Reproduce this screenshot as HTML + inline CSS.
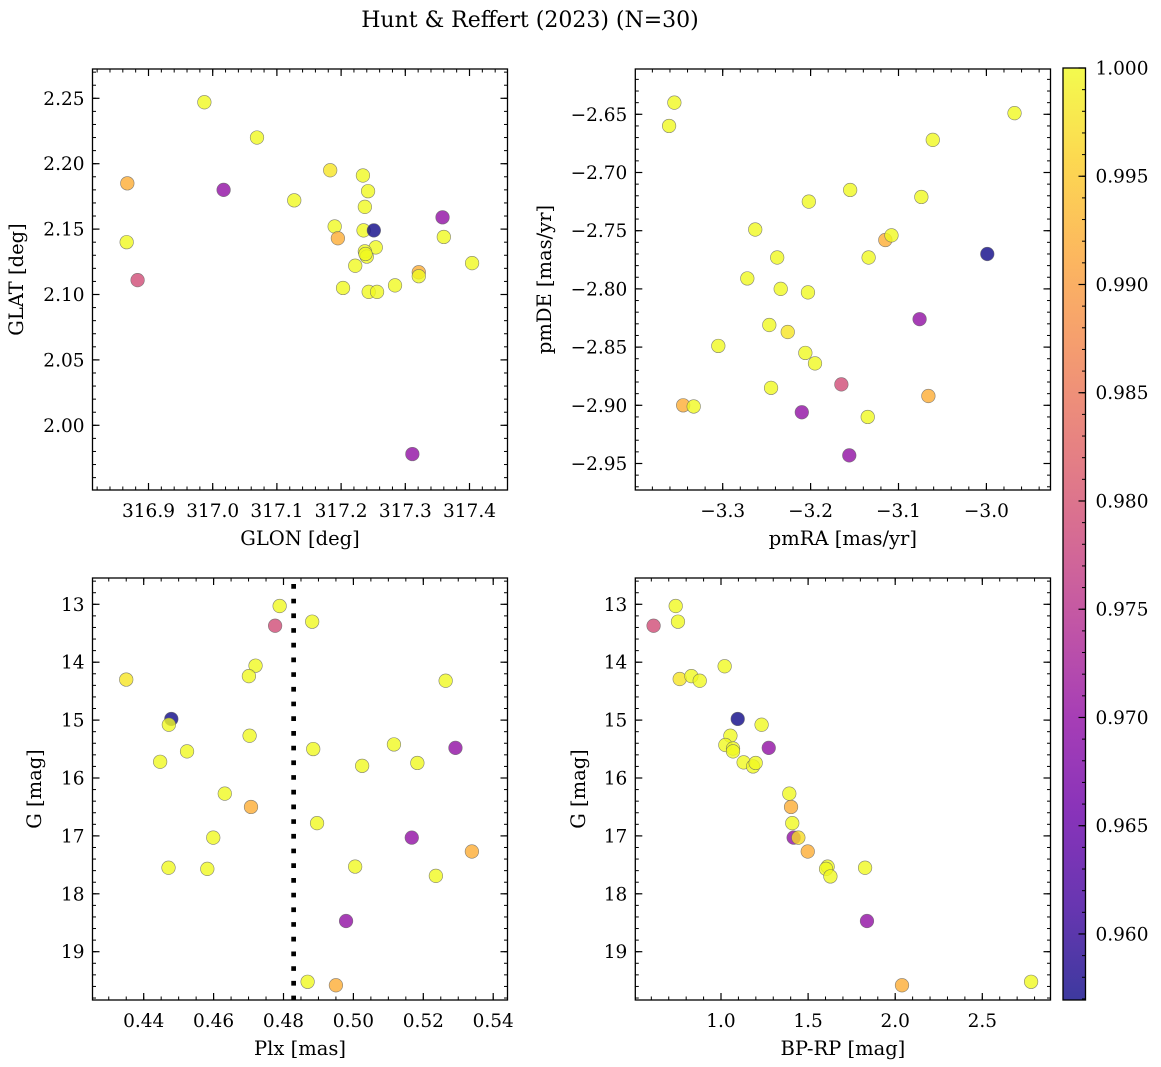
<!DOCTYPE html>
<html><head><meta charset="utf-8">
<style>
html,body{margin:0;padding:0;background:#fff;}
svg{display:block;font-family:"DejaVu Serif","Liberation Serif",serif;}
</style></head>
<body>
<svg id="fig" width="1161" height="1067" viewBox="0 0 1161 1067" xmlns="http://www.w3.org/2000/svg">
<text x="530" y="27" font-size="22" text-anchor="middle">Hunt &amp; Reffert (2023) (N=30)</text>
</svg>
<script>
// ---- data ----
const glon=[316.987,317.069,316.867,317.017,317.127,317.183,317.234,317.242,317.237,317.358,316.866,317.190,317.195,317.235,317.251,317.360,317.254,317.237,317.240,317.222,317.404,316.883,317.321,317.321,317.203,317.243,317.256,317.284,317.311,317.238];
const glat=[2.247,2.220,2.185,2.180,2.172,2.195,2.191,2.179,2.167,2.159,2.140,2.152,2.143,2.149,2.149,2.144,2.136,2.133,2.129,2.122,2.124,2.111,2.117,2.114,2.105,2.102,2.102,2.107,1.978,2.131];
const glonC=[1,1,0.992,0.970,1,0.998,1,1,1,0.970,1,1,0.992,1,0.957,1,1,1,1,1,1,0.979,0.992,1,1,1,1,1,0.970,1];
const pmra=[-3.355,-3.361,-2.968,-3.061,-3.155,-3.202,-3.074,-3.263,-3.115,-3.108,-3.238,-3.134,-2.999,-3.272,-3.234,-3.203,-3.076,-3.247,-3.226,-3.305,-3.206,-3.195,-3.165,-3.245,-3.066,-3.345,-3.333,-3.210,-3.135,-3.156];
const pmde=[-2.640,-2.660,-2.649,-2.672,-2.715,-2.725,-2.721,-2.749,-2.758,-2.754,-2.773,-2.773,-2.770,-2.791,-2.800,-2.803,-2.826,-2.831,-2.837,-2.849,-2.855,-2.864,-2.882,-2.885,-2.892,-2.900,-2.901,-2.906,-2.910,-2.943];
const pmC=[1,1,1,1,1,1,1,1,0.992,1,1,1,0.957,1,1,1,0.970,1,0.998,1,1,1,0.979,1,0.992,0.992,1,0.970,1,0.970];
const plx=[0.4789,0.4776,0.4882,0.4720,0.4701,0.4350,0.5264,0.4479,0.4472,0.4703,0.4524,0.4885,0.5116,0.5292,0.4447,0.5025,0.5183,0.4632,0.4707,0.4896,0.4599,0.5167,0.5339,0.4471,0.4582,0.5005,0.5236,0.4979,0.4869,0.4950];
const gPlx=[13.03,13.37,13.30,14.06,14.24,14.30,14.32,14.98,15.08,15.27,15.54,15.50,15.42,15.48,15.72,15.79,15.74,16.27,16.50,16.78,17.03,17.03,17.27,17.55,17.57,17.53,17.69,18.47,19.52,19.58];
const plxC=[1,0.979,1,1,1,0.998,1,0.957,1,1,1,1,1,0.970,1,1,1,1,0.992,1,1,0.970,0.992,1,1,1,1,0.970,1,0.992];
const bprp=[0.740,0.753,0.613,1.021,0.763,0.830,0.878,1.096,1.233,1.054,1.025,1.069,1.069,1.274,1.130,1.184,1.199,1.392,1.402,1.409,1.417,1.444,1.498,1.612,1.603,1.628,1.827,1.838,2.780,2.039];
const gCmd=[13.03,13.30,13.37,14.07,14.29,14.24,14.32,14.98,15.08,15.27,15.43,15.49,15.54,15.48,15.73,15.80,15.74,16.27,16.50,16.78,17.03,17.03,17.27,17.53,17.57,17.70,17.55,18.47,19.52,19.58];
const cmdC=[1,1,0.979,1,0.998,1,1,0.957,1,1,1,1,1,0.970,1,1,1,1,0.992,1,0.970,0.997,0.992,1,1,1,1,0.970,1,0.992];
const plxLine=[0.4829];
const glonTicks=[316.9,317.0,317.1,317.2,317.3,317.4];
const glatTicks=[2.00,2.05,2.10,2.15,2.20,2.25];
const pmraTicks=[-3.3,-3.2,-3.1,-3.0];
const pmdeTicks=[-2.95,-2.90,-2.85,-2.80,-2.75,-2.70,-2.65];
const plxTicks=[0.44,0.46,0.48,0.50,0.52,0.54];
const gTicks=[13,14,15,16,17,18,19];
const bprpTicks=[1.0,1.5,2.0,2.5];
const cbTicks=[0.960,0.965,0.970,0.975,0.980,0.985,0.990,0.995,1.000];
const cMin=0.95695, cMax=1.0;

const NS="http://www.w3.org/2000/svg";
const svg=document.getElementById('fig');
const TFS=18.5, LFS=19.5;
function mk(tag,attrs,parent){const e=document.createElementNS(NS,tag);for(const k in attrs)e.setAttribute(k,attrs[k]);(parent||svg).appendChild(e);return e;}
const stops=[[13,8,135],[65,4,157],[106,0,168],[143,13,164],[177,42,144],[204,71,120],[225,100,98],[242,132,75],[252,166,54],[252,206,37],[240,249,33]];
function plasma(t){t=Math.max(0,Math.min(1,t));const s=t*10,i=Math.min(9,Math.floor(s)),f=s-i;const a=stops[i],b=stops[i+1];return 'rgb('+a.map((v,k)=>Math.round(v+(b[k]-v)*f)).join(',')+')';}
function fmt(v,d){return v.toFixed(d).replace('-','\u2212');}

function panel(o){
  const g=mk('g',{});
  
  
  const sx=v=>o.L+(v-o.x0)/(o.x1-o.x0)*(o.R-o.L);
  const sy=v=>o.T+(v-o.y0)/(o.y1-o.y0)*(o.B-o.T);
  for(let v=Math.ceil(o.x0/o.xm-1e-6)*o.xm; v<=o.x1; v+=o.xm){const x=sx(v);mk('line',{x1:x,x2:x,y1:o.B,y2:o.B-3.5,stroke:'#000','stroke-width':1},g);mk('line',{x1:x,x2:x,y1:o.T,y2:o.T+3.5,stroke:'#000','stroke-width':1},g);}
  const ylo=Math.min(o.y0,o.y1),yhi=Math.max(o.y0,o.y1);
  for(let v=Math.ceil(ylo/o.ym-1e-6)*o.ym; v<=yhi; v+=o.ym){const y=sy(v);mk('line',{x1:o.L,x2:o.L+3.5,y1:y,y2:y,stroke:'#000','stroke-width':1},g);mk('line',{x1:o.R,x2:o.R-3.5,y1:y,y2:y,stroke:'#000','stroke-width':1},g);}
  o.xt.forEach(v=>{const x=sx(v);mk('line',{x1:x,x2:x,y1:o.B,y2:o.B-7,stroke:'#000','stroke-width':1.2},g);mk('line',{x1:x,x2:x,y1:o.T,y2:o.T+7,stroke:'#000','stroke-width':1.2},g);
    const t=mk('text',{x:x,y:o.B+27,'font-size':TFS,'text-anchor':'middle'},g);t.textContent=fmt(v,o.xd);
    
    });
  o.yt.forEach(v=>{const y=sy(v);mk('line',{x1:o.L,x2:o.L+7,y1:y,y2:y,stroke:'#000','stroke-width':1.2},g);mk('line',{x1:o.R,x2:o.R-7,y1:y,y2:y,stroke:'#000','stroke-width':1.2},g);
    const t=mk('text',{x:o.L-8,y:y+6.5,'font-size':TFS,'text-anchor':'end'},g);t.textContent=fmt(v,o.yd);
    
    });
  if(o.vline){o.vline.forEach(v=>{const l=mk('line',{x1:sx(v),x2:sx(v),y1:o.T,y2:o.B,stroke:'#000','stroke-width':4.7,'stroke-dasharray':'4.7 10','stroke-dashoffset':'-6'},g);
    
    });}
  const cl=mk('clipPath',{id:'clip-'+o.name},g);mk('rect',{x:o.L,y:o.T,width:o.R-o.L,height:o.B-o.T},cl);
  const pts=mk('g',{'clip-path':'url(#clip-'+o.name+')'},g);
  o.xs.forEach((xv,i)=>{const c=mk('circle',{cx:sx(xv),cy:sy(o.ys[i]),r:6.8,fill:plasma((o.cs[i]-cMin)/(cMax-cMin)),'fill-opacity':0.8,stroke:'#666','stroke-opacity':0.8,'stroke-width':0.6},pts);
    
    });
  const fr=mk('rect',{x:o.L,y:o.T,width:o.R-o.L,height:o.B-o.T,fill:'none',stroke:'#000','stroke-width':1.3},g);
  
  
  const xl=mk('text',{x:(o.L+o.R)/2,y:o.B+55,'font-size':LFS,'text-anchor':'middle'},g);xl.textContent=o.xlabel;
  
  
  const cy=(o.T+o.B)/2;
  const yl=mk('text',{x:o.ylx,y:cy,'font-size':LFS,'text-anchor':'middle',transform:'rotate(-90 '+o.ylx+' '+cy+')'},g);yl.textContent=o.ylabel;
  
  
}

panel({name:'glon-glat-panel',L:92.5,R:507.5,T:69,B:490,x0:316.9-56/642,x1:316.9+359/642,y0:2.25+29.3/1308,y1:2.25-391.7/1308,
  xt:glonTicks,yt:glatTicks,xm:0.02,ym:0.01,xd:1,yd:2,xs:glon,ys:glat,cs:glonC,xlabel:'GLON [deg]',ylabel:'GLAT [deg]',ylx:23});
panel({name:'pm-panel',L:635.3,R:1050.5,T:69,B:490,x0:-3.3-87.4/879,x1:-3.3+327.8/879,y0:-2.65+45.3/1164,y1:-2.65-375.7/1164,
  xt:pmraTicks,yt:pmdeTicks,xm:0.02,ym:0.01,xd:1,yd:2,xs:pmra,ys:pmde,cs:pmC,xlabel:'pmRA [mas/yr]',ylabel:'pmDE [mas/yr]',ylx:551});
panel({name:'plx-g-panel',L:92.5,R:507.5,T:578,B:1000,x0:0.44-51.2/3495,x1:0.44+363.8/3495,y0:13-26.3/57.9,y1:13+395.7/57.9,
  xt:plxTicks,yt:gTicks,xm:0.005,ym:0.2,xd:2,yd:0,xs:plx,ys:gPlx,cs:plxC,xlabel:'Plx [mas]',ylabel:'G [mag]',ylx:41,vline:plxLine});
panel({name:'cmd-panel',L:635.3,R:1050.5,T:578,B:1000,x0:1.0-85.7/174.2,x1:1.0+329.5/174.2,y0:13-26.3/57.9,y1:13+395.7/57.9,
  xt:bprpTicks,yt:gTicks,xm:0.1,ym:0.2,xd:1,yd:0,xs:bprp,ys:gCmd,cs:cmdC,xlabel:'BP-RP [mag]',ylabel:'G [mag]',ylx:585});

// colorbar
(function(){
  const L=1063,R=1085.5,T=68,B=1000;
  const g=mk('g',{});
  
  
  const defs=mk('defs',{},g);
  const lg=mk('linearGradient',{id:'plasmaGrad',x1:0,y1:1,x2:0,y2:0},defs);
  for(let i=0;i<=20;i++){mk('stop',{offset:i/20,'stop-color':plasma(i/20),'stop-opacity':0.8},lg);}
  mk('rect',{x:L,y:T,width:R-L,height:B-T,fill:'url(#plasmaGrad)'},g);
  const sy=v=>B-(v-cMin)/(cMax-cMin)*(B-T);
  for(let k=957;k<=1000;k++){const y=sy(k/1000);mk('line',{x1:R,x2:R-3.5,y1:y,y2:y,stroke:'#000','stroke-width':1},g);}
  cbTicks.forEach(v=>{const y=sy(v);mk('line',{x1:R,x2:R-7,y1:y,y2:y,stroke:'#000','stroke-width':1.2},g);
    const t=mk('text',{x:R+10,y:y+6.5,'font-size':TFS},g);t.textContent=v.toFixed(3);
    
    });
  mk('rect',{x:L,y:T,width:R-L,height:B-T,fill:'none',stroke:'#000','stroke-width':1.3},g);
})();
</script>
</body></html>
